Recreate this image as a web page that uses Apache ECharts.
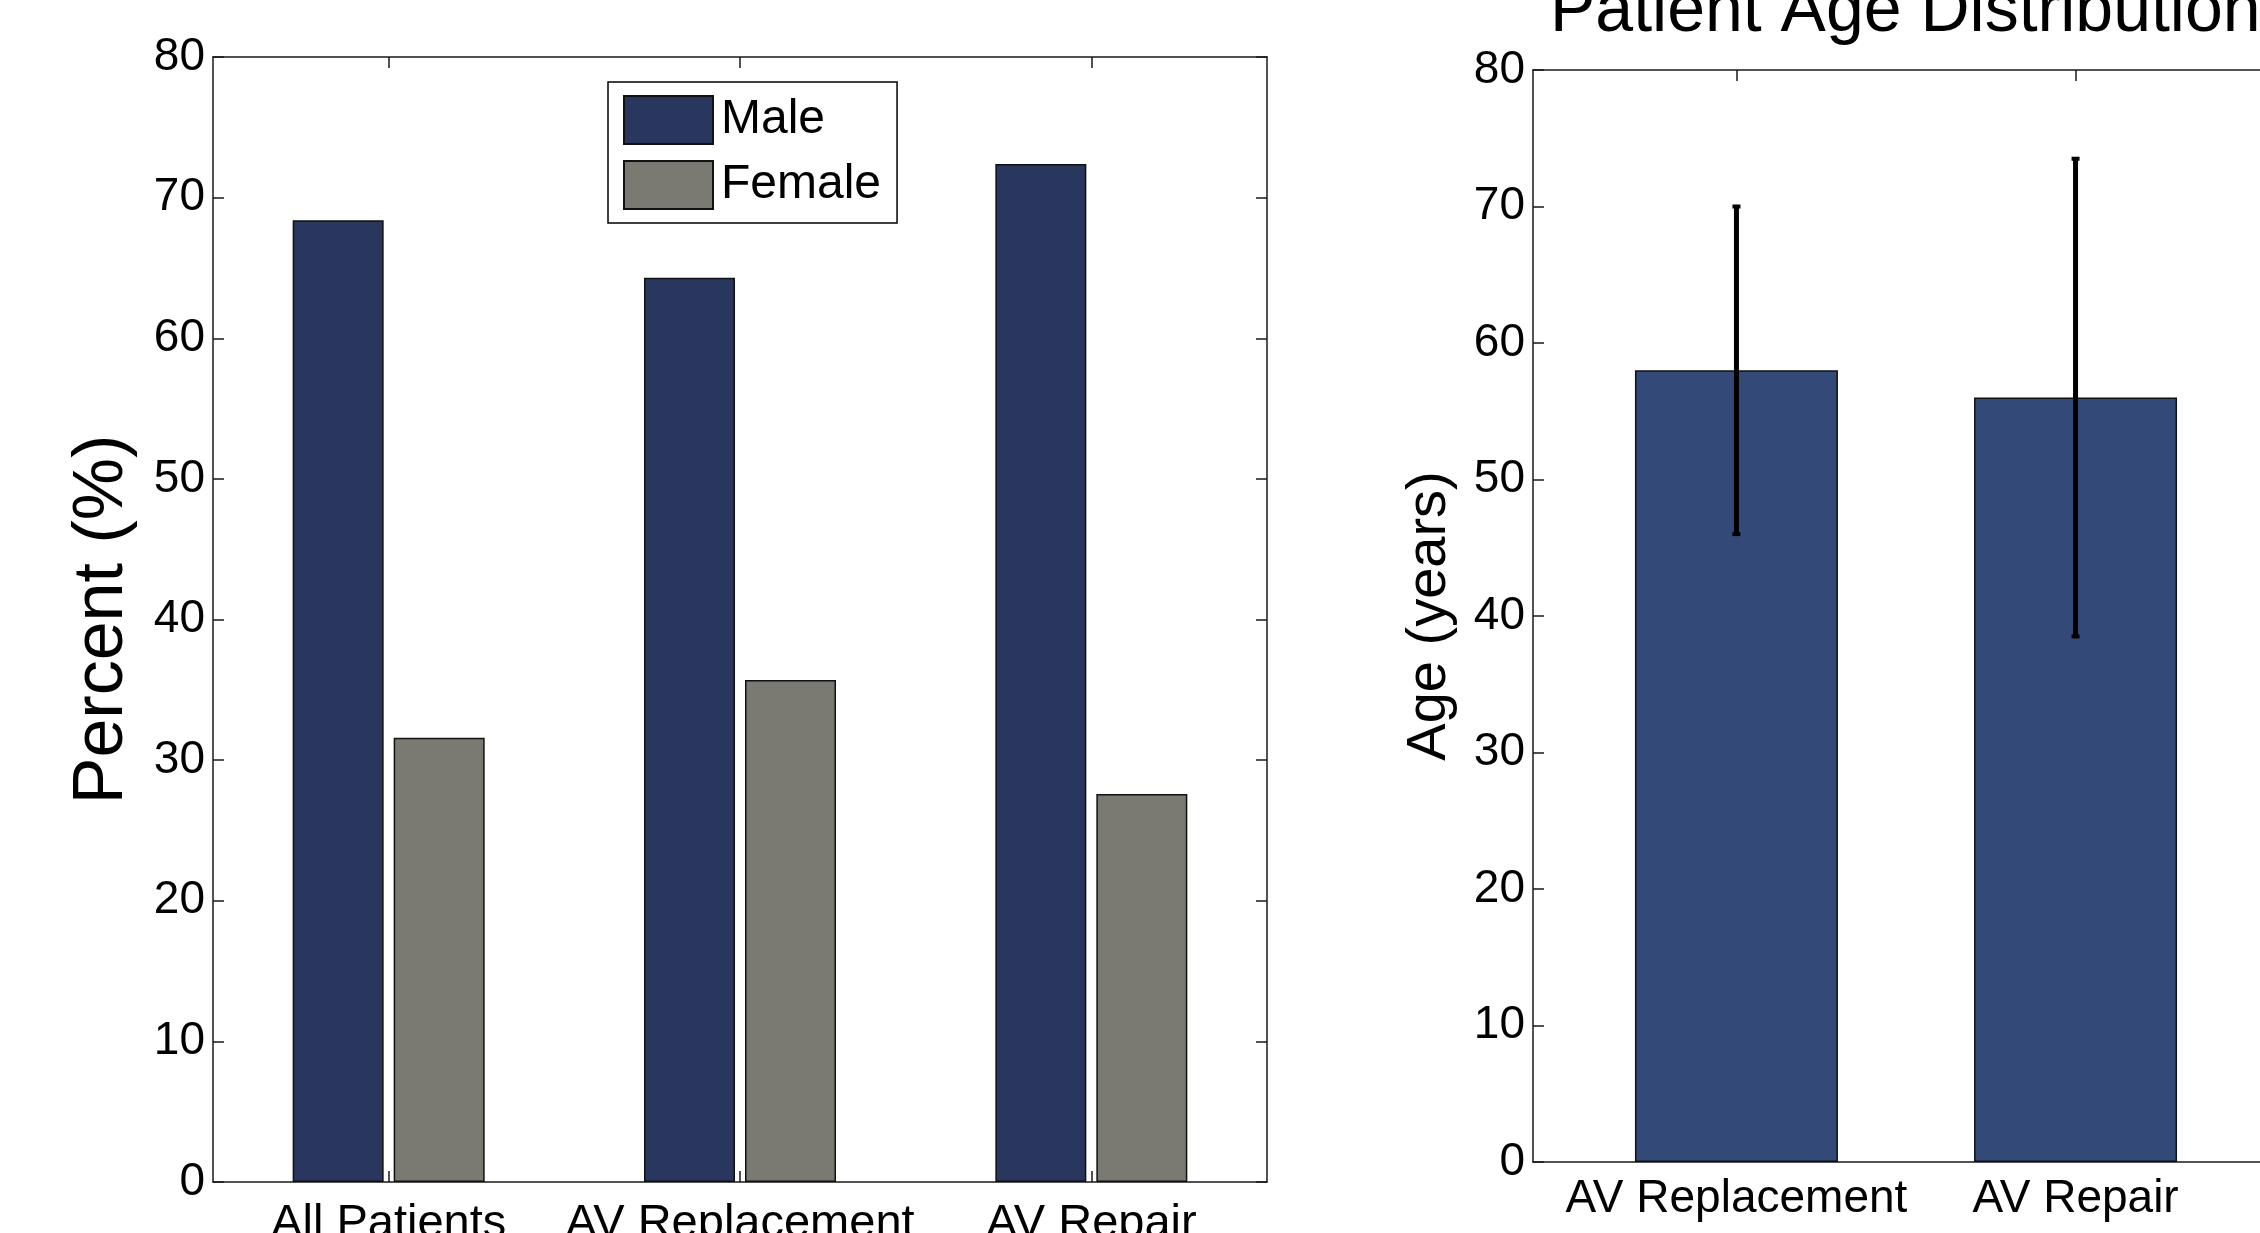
<!DOCTYPE html>
<html>
<head>
<meta charset="utf-8">
<script src="https://cdn.jsdelivr.net/npm/echarts@6/dist/echarts.min.js"></script>
<style>
html,body{margin:0;padding:0;background:#fff;}
#chart{width:2260px;height:1233px;}
</style>
</head>
<body>
<div id="chart"></div>
<script>
// ---- data ----
const leftCategories = ['All Patients', 'AV Replacement', 'AV Repair'];
const maleValues = [68.4, 64.3, 72.4];
const femaleValues = [31.6, 35.7, 27.6];

const rightCategories = ['AV Replacement', 'AV Repair'];
const rightPositions = [1, 2];
const ageMeans = [58, 56];
const ageLow = [46, 38.5];
const ageHigh = [70, 73.5];

const yTickInterval = 10;
const yMax = 80;

// ---- styles ----
const FONT = '"Liberation Sans", Arial, Helvetica, sans-serif';
const AX = { color: '#1a1a1a', width: 1.5 };
const MALE = '#29375f';
const FEMALE = '#7a7a73';
const AGE = '#334a78';

const chart = echarts.init(document.getElementById('chart'), null, { renderer: 'canvas' });

function yAxisBase(gridIndex, position, showLabel, name, nameGap, nameSize) {
  return {
    type: 'value', gridIndex, position, min: 0, max: yMax, interval: yTickInterval,
    axisLine: { show: true, lineStyle: AX },
    axisTick: { show: true, inside: true, length: 11, lineStyle: AX },
    axisLabel: { show: showLabel, fontSize: 46, color: '#000', fontFamily: FONT, margin: 8, padding: [8, 0, 0, 0] },
    splitLine: { show: false },
    name: name || '', nameLocation: 'middle', nameGap: nameGap || 0, nameRotate: 90,
    nameTextStyle: { fontSize: nameSize || 12, color: '#000', fontFamily: FONT }
  };
}

const rightX = (position, showLabel) => ({
  type: 'value', gridIndex: 1, position, min: 0.4, max: 2.6,
  axisLine: { show: true, onZero: false, lineStyle: AX },
  axisTick: { show: true, inside: true, length: 11, lineStyle: AX, customValues: rightPositions },
  axisLabel: {
    show: showLabel, customValues: rightPositions, fontSize: 46, color: '#000', fontFamily: FONT, margin: 14,
    formatter: v => rightCategories[rightPositions.indexOf(Math.round(v))] || ''
  },
  splitLine: { show: false }
});

const option = {
  backgroundColor: '#fff',
  animation: false,
  title: {
    text: 'Patient Age Distribution',
    left: 1545, top: -27,
    textStyle: { fontSize: 68, fontWeight: 'normal', color: '#000', fontFamily: FONT }
  },
  legend: {
    data: ['Male', 'Female'],
    orient: 'vertical', left: 608, top: 82,
    padding: [13, 16, 13, 15],
    itemWidth: 89, itemHeight: 48, itemGap: 15,
    borderColor: '#000', borderWidth: 1.5, backgroundColor: '#fff',
    icon: 'rect', selectedMode: false,
    textStyle: { fontSize: 48, color: '#000', fontFamily: FONT, padding: [5, 0, 0, 3] }
  },
  grid: [
    { left: 213, top: 57, width: 1054, height: 1125, containLabel: false, outerBoundsMode: 'none' },
    { left: 1533, top: 70, width: 746, height: 1092, containLabel: false, outerBoundsMode: 'none' }
  ],
  xAxis: [
    {
      type: 'category', gridIndex: 0, position: 'bottom', data: leftCategories,
      axisLine: { show: true, onZero: false, lineStyle: AX },
      axisTick: { show: true, inside: true, length: 11, alignWithLabel: true, lineStyle: AX },
      axisLabel: { fontSize: 47, color: '#000', fontFamily: FONT, margin: 19, interval: 0 },
      splitLine: { show: false }
    },
    {
      type: 'category', gridIndex: 0, position: 'top', data: leftCategories,
      axisLine: { show: true, onZero: false, lineStyle: AX },
      axisTick: { show: true, inside: true, length: 11, alignWithLabel: true, lineStyle: AX },
      axisLabel: { show: false },
      splitLine: { show: false }
    },
    rightX('bottom', true),
    rightX('top', false)
  ],
  yAxis: [
    yAxisBase(0, 'left', true, 'Percent (%)', 75, 70),
    yAxisBase(0, 'right', false),
    yAxisBase(1, 'left', true, 'Age (years)', 75, 56),
    yAxisBase(1, 'right', false)
  ],
  series: [
    {
      name: 'Male', type: 'bar', xAxisIndex: 0, yAxisIndex: 0,
      data: maleValues, barWidth: 91, barGap: '11%',
      itemStyle: { color: MALE, borderColor: '#111', borderWidth: 1.5 }
    },
    {
      name: 'Female', type: 'bar', xAxisIndex: 0, yAxisIndex: 0,
      data: femaleValues, barWidth: 91, barGap: '11%',
      itemStyle: { color: FEMALE, borderColor: '#111', borderWidth: 1.5 }
    },
    {
      name: 'Age', type: 'bar', xAxisIndex: 2, yAxisIndex: 2,
      data: rightPositions.map((p, i) => [p, ageMeans[i]]), barWidth: 203,
      itemStyle: { color: AGE, borderColor: '#111', borderWidth: 1.5 }
    },
    {
      name: 'AgeErr', type: 'custom', xAxisIndex: 2, yAxisIndex: 2, z: 5,
      data: rightPositions.map((p, i) => [p, ageLow[i], ageHigh[i]]),
      renderItem: function (params, api) {
        const lo = api.coord([api.value(0), api.value(1)]);
        const hi = api.coord([api.value(0), api.value(2)]);
        return {
          type: 'group',
          children: [
            { type: 'line', shape: { x1: lo[0], y1: lo[1], x2: hi[0], y2: hi[1] },
              style: { stroke: '#000', lineWidth: 5 } },
            { type: 'line', shape: { x1: hi[0] - 4, y1: hi[1], x2: hi[0] + 4, y2: hi[1] },
              style: { stroke: '#000', lineWidth: 4 } },
            { type: 'line', shape: { x1: lo[0] - 4, y1: lo[1], x2: lo[0] + 4, y2: lo[1] },
              style: { stroke: '#000', lineWidth: 4 } }
          ]
        };
      }
    }
  ]
};

chart.setOption(option);
</script>
</body>
</html>
